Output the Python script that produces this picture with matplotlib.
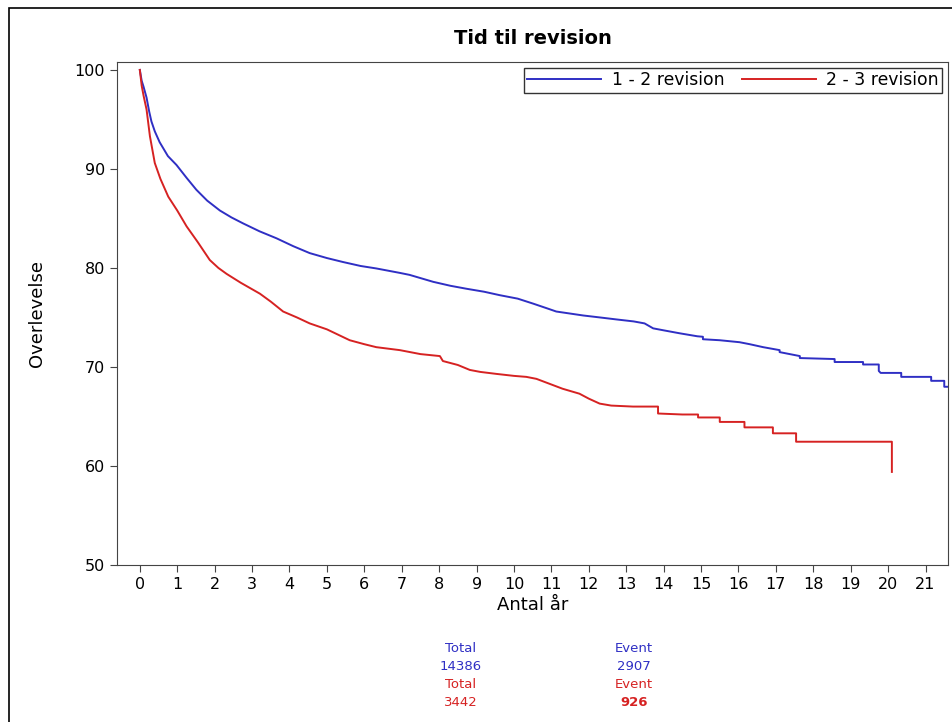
import numpy as np
import matplotlib.pyplot as plt
from matplotlib.patches import Rectangle

# Kaplan-Meier estimates (years, survival %)
blue_t = [0, 0.05, 0.1, 0.18, 0.25, 0.31, 0.4, 0.53, 0.75, 0.98, 1.25, 1.51, 1.8, 2.14, 2.45,
          2.76, 3.2, 3.65, 4.1, 4.54, 5.0, 5.43, 5.9, 6.32, 6.95, 7.21, 7.84, 8.3,
          8.73, 9.2, 9.62, 10.1, 10.51, 10.9, 11.13, 11.85, 12.3, 12.74, 13.2, 13.49,
          13.72, 14.0, 14.43, 14.9, 15.05, 15.05, 15.5, 16.03, 16.3, 16.66, 17.1,
          17.1, 17.64, 17.64, 18.57, 18.57, 19.33, 19.33, 19.75, 19.75, 19.8, 20.35,
          20.35, 21.15, 21.15, 21.5, 21.5, 21.65]
blue_s = [100, 98.9, 98.3, 97.2, 95.8, 94.8, 93.8, 92.7, 91.3, 90.4, 89.1, 87.9, 86.8, 85.8, 85.1,
          84.5, 83.7, 83.0, 82.2, 81.5, 81.0, 80.6, 80.2, 79.95, 79.5, 79.3, 78.6, 78.2,
          77.9, 77.6, 77.25, 76.9, 76.4, 75.9, 75.6, 75.2, 75.0, 74.8, 74.6, 74.4,
          73.9, 73.7, 73.4, 73.1, 73.05, 72.8, 72.7, 72.5, 72.3, 72.0, 71.7,
          71.5, 71.1, 70.9, 70.8, 70.5, 70.5, 70.25, 70.25, 69.6, 69.4, 69.4,
          69.0, 69.0, 68.6, 68.6, 68.0, 68.0]

red_t = [0, 0.05, 0.1, 0.18, 0.27, 0.4, 0.55, 0.76, 1.0, 1.25, 1.55, 1.87, 2.1, 2.32,
         2.7, 3.21, 3.5, 3.83, 4.2, 4.54, 5.0, 5.61, 6.0, 6.32, 6.95, 7.5, 8.02, 8.1,
         8.5, 8.82, 9.1, 9.53, 10.0, 10.33, 10.6, 10.95, 11.3, 11.75, 12.0, 12.29,
         12.6, 13.18, 13.85, 13.85, 14.5, 14.92, 14.92, 15.5, 15.5, 16.16, 16.16,
         16.92, 16.92, 17.54, 17.54, 20.1, 20.1]
red_s = [100, 98.4, 97.4, 96.0, 93.3, 90.6, 89.0, 87.2, 85.8, 84.2, 82.6, 80.8, 80.0, 79.4,
         78.5, 77.4, 76.6, 75.6, 75.0, 74.4, 73.8, 72.7, 72.3, 72.0, 71.7, 71.3, 71.1, 70.6,
         70.2, 69.7, 69.5, 69.3, 69.1, 69.0, 68.8, 68.3, 67.8, 67.3, 66.8, 66.3,
         66.1, 66.0, 66.0, 65.3, 65.2, 65.2, 64.9, 64.9, 64.45, 64.45, 63.9,
         63.9, 63.3, 63.3, 62.45, 62.45, 59.4]

labels = ['1 - 2 revision', '2 - 3 revision']
totals = ['14386', '3442']
events = ['2907', '926']

blue = '#2f2fc4'
red = '#d62222'

fig = plt.figure(figsize=(9.52, 7.22), dpi=100)
ax = fig.add_axes([117/952, 1 - 565/722, (948 - 117)/952, (565 - 62)/722])

ax.plot(blue_t, blue_s, color=blue, lw=1.4, label=labels[0])
ax.plot(red_t, red_s, color=red, lw=1.4, label=labels[1])

ax.set_xlim(-0.61, 21.6)
ax.set_ylim(50, 100.8)
ax.set_xticks(range(0, 22))
ax.set_yticks(range(50, 101, 10))
ax.tick_params(labelsize=11.5, length=5, color='#444444')
for sp in ax.spines.values():
    sp.set_color('#444444')

ax.set_title('Tid til revision', fontsize=14, fontweight='bold', pad=13)
ax.set_xlabel('Antal år', fontsize=13, labelpad=3)
ax.set_ylabel('Overlevelse', fontsize=13, labelpad=21)

leg = ax.legend(loc='upper right', ncol=2, handlelength=4.3, fontsize=12.4,
                frameon=True, fancybox=False, edgecolor='black', borderpad=0.2,
                columnspacing=1.0, handletextpad=0.6, borderaxespad=0.35)
leg.get_frame().set_linewidth(1.0)

# summary table under the x axis
cols = [461 / 952, 634 / 952]
rows = [1 - 649 / 722, 1 - 666 / 722, 1 - 685 / 722, 1 - 702 / 722]
for i, (tot, ev, c) in enumerate(zip(totals, events, [blue, red])):
    fw = 'bold' if i == 1 else 'normal'
    fig.text(cols[0], rows[2 * i], 'Total', color=c, fontsize=9.5, ha='center', va='center')
    fig.text(cols[0], rows[2 * i + 1], tot, color=c, fontsize=9.5, ha='center', va='center')
    fig.text(cols[1], rows[2 * i], 'Event', color=c, fontsize=9.5, ha='center', va='center')
    fig.text(cols[1], rows[2 * i + 1], ev, color=c, fontsize=9.5, ha='center', va='center',
             fontweight=fw)

# outer frame (right and bottom edges fall outside the image)
fig.patches.append(Rectangle((9 / 952, -0.1), 1.0, 1 - 8 / 722 + 0.1,
                             transform=fig.transFigure, fill=False,
                             edgecolor='black', lw=1.2))

fig.savefig('out.png', dpi=100)
